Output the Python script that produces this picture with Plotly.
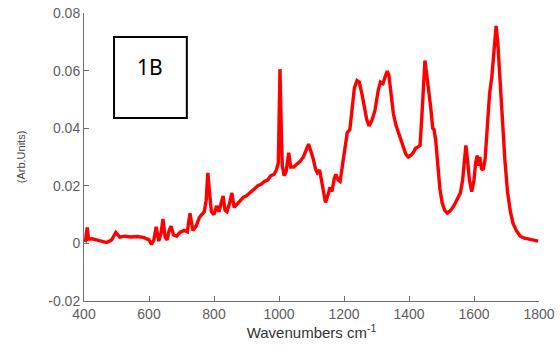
import plotly.graph_objects as go

wavenumber = [
    400, 405, 410, 414, 425, 440, 455, 470, 485, 498, 510, 525, 545, 565, 585, 600,
    608, 615, 622, 630, 637, 643, 650, 656, 662, 668, 675, 685, 695, 708, 718, 726,
    735, 745, 755, 762, 770, 776, 781, 786, 792, 800, 808, 815, 822, 828, 834, 840,
    848, 855, 862, 870, 880, 890, 900, 912, 925, 935, 945, 955, 965, 975, 985, 992,
    998, 1001, 1003, 1006, 1010, 1016, 1022, 1030, 1036, 1045, 1055, 1065, 1075, 1085,
    1091, 1098, 1105, 1112, 1118, 1125, 1132, 1138, 1143, 1150, 1157, 1163, 1170, 1175,
    1182, 1188, 1195, 1203, 1210, 1218, 1225, 1232, 1240, 1247, 1255, 1263, 1270, 1277,
    1285, 1295, 1305, 1312, 1320, 1327, 1333, 1338, 1345, 1352, 1360, 1368, 1375, 1382,
    1390, 1398, 1405, 1413, 1420, 1428, 1434, 1440, 1445, 1449, 1453, 1460, 1467, 1473,
    1477, 1482, 1488, 1495, 1502, 1510, 1518, 1528, 1538, 1548, 1558, 1565, 1570, 1575,
    1580, 1586, 1593, 1600, 1605, 1610, 1614, 1618, 1623, 1628, 1634, 1640, 1648, 1655,
    1662, 1668, 1673, 1680, 1688, 1695, 1703, 1712, 1720, 1730, 1742, 1755, 1770, 1785, 1797,
]
intensity = [
    0.0012, 0.0010, 0.0055, 0.0015, 0.0016, 0.0012, 0.0008, 0.0003, 0.0012, 0.0038, 0.0022, 0.0025, 0.0022, 0.0024, 0.0020, 0.0012,
    -0.0003, 0.0012, 0.0058, 0.0008, 0.0035, 0.0085, 0.0020, 0.0012, 0.0045, 0.0060, 0.0030, 0.0025, 0.0038, 0.0045, 0.0040, 0.0105,
    0.0045, 0.0060, 0.0090, 0.0100, 0.0110, 0.0150, 0.0245, 0.0180, 0.0110, 0.0100, 0.0130, 0.0110, 0.0140, 0.0165, 0.0115, 0.0110,
    0.0140, 0.0175, 0.0125, 0.0135, 0.0150, 0.0160, 0.0165, 0.0178, 0.0190, 0.0200, 0.0205, 0.0215, 0.0220, 0.0235, 0.0240, 0.0255,
    0.0280, 0.0500, 0.0605, 0.0450, 0.0270, 0.0235, 0.0250, 0.0315, 0.0265, 0.0265, 0.0275, 0.0285, 0.0300, 0.0330,
    0.0345, 0.0320, 0.0295, 0.0260, 0.0245, 0.0255, 0.0210, 0.0170, 0.0142, 0.0165, 0.0195, 0.0180, 0.0225, 0.0240,
    0.0220, 0.0215, 0.0270, 0.0340, 0.0385, 0.0395, 0.0480, 0.0540, 0.0565, 0.0560, 0.0520, 0.0470, 0.0430, 0.0408,
    0.0425, 0.0460, 0.0530, 0.0560, 0.0555, 0.0580, 0.0598, 0.0585, 0.0520, 0.0450, 0.0410, 0.0385, 0.0355, 0.0340,
    0.0310, 0.0300, 0.0305, 0.0315, 0.0330, 0.0335, 0.0340, 0.0450, 0.0590, 0.0635, 0.0600, 0.0540, 0.0470, 0.0400,
    0.0395, 0.0360, 0.0280, 0.0190, 0.0140, 0.0115, 0.0105, 0.0115, 0.0130, 0.0150, 0.0175, 0.0220, 0.0270, 0.0340,
    0.0290, 0.0220, 0.0180, 0.0220, 0.0280, 0.0305, 0.0270, 0.0300, 0.0260, 0.0255, 0.0290, 0.0390, 0.0520, 0.0580,
    0.0660, 0.0755, 0.0700, 0.0560, 0.0420, 0.0290, 0.0180, 0.0110, 0.0070, 0.0045, 0.0025, 0.0018, 0.0015, 0.0012, 0.0008,
]

x_ticks = [400, 600, 800, 1000, 1200, 1400, 1600, 1800]
y_ticks = [-0.02, 0, 0.02, 0.04, 0.06, 0.08]
y_tick_labels = ["-0.02", "0", "0.02", "0.04", "0.06", "0.08"]
panel_label = "1B"

fig = go.Figure()
fig.add_trace(go.Scatter(
    x=wavenumber, y=intensity, mode="lines",
    line=dict(color="#ff0000", width=3.4),
    showlegend=False, hoverinfo="skip",
))

axis_common = dict(
    showgrid=False, zeroline=False, showline=True, linecolor="#707070", linewidth=1,
    ticks="inside", ticklen=5, tickcolor="#707070", tickwidth=1,
    tickfont=dict(family="Liberation Sans, Arial, sans-serif", size=14, color="#606060"),
    mirror=False, automargin=False, ticklabeloverflow="allow",
)

fig.update_layout(
    width=560, height=352,
    margin=dict(l=84, r=21, t=13, b=51),
    paper_bgcolor="white", plot_bgcolor="white",
    xaxis=dict(
        range=[400, 1800], tickvals=x_ticks,
        title=dict(text="Wavenumbers cm<sup>-1</sup>",
                   font=dict(family="Liberation Sans, Arial, sans-serif", size=15, color="#333333"),
                   standoff=6),
        **axis_common,
    ),
    yaxis=dict(
        range=[-0.02, 0.08], tickvals=y_ticks, ticktext=y_tick_labels,
        title=dict(text="(Arb.Units)",
                   font=dict(family="Liberation Sans, Arial, sans-serif", size=11, color="#444444"),
                   standoff=20),
        **axis_common,
    ),
    shapes=[dict(type="rect", xref="paper", yref="paper",
                 x0=0.066, x1=0.226, y0=0.635, y1=0.917,
                 line=dict(color="black", width=2), fillcolor="white")],
    annotations=[dict(text=panel_label, xref="paper", yref="paper",
                      x=0.145, y=0.8125, showarrow=False,
                      font=dict(family="Noto Sans, Open Sans, sans-serif", size=21, color="black"),
                      xanchor="center", yanchor="middle")],
)

fig.write_html("out.html", config={"displayModeBar": False},
               post_script="document.body.style.margin='0';")
